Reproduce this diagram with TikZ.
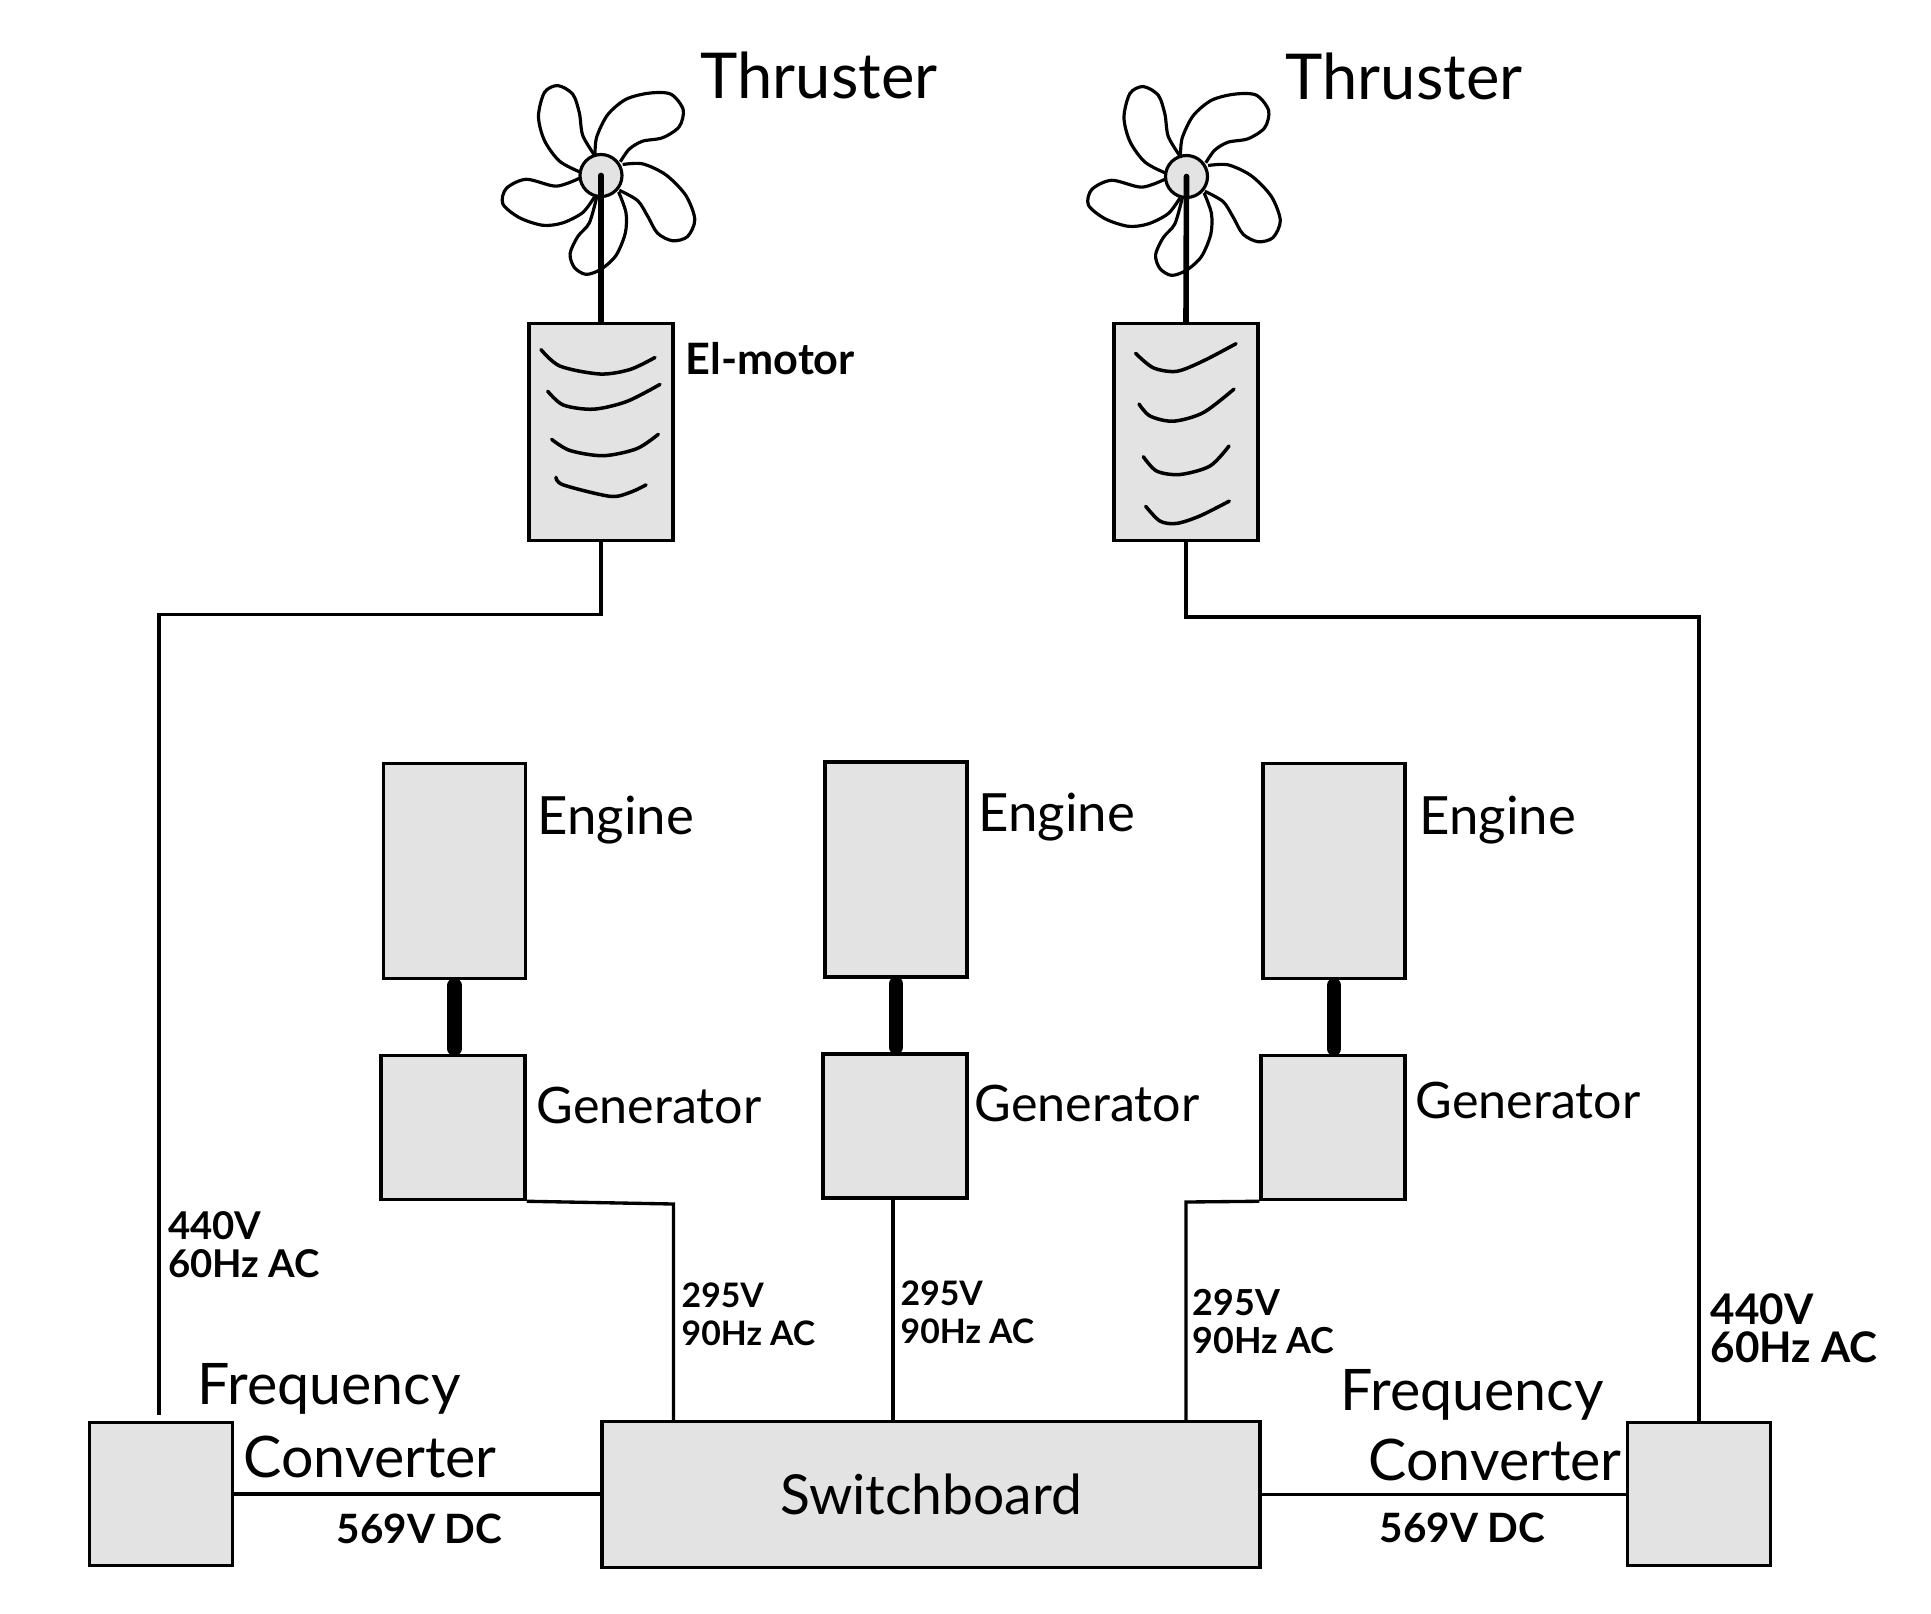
\documentclass[tikz,border=0pt]{standalone}
\usepackage{fontspec}
\usepackage{xcolor}
\setmainfont{Lato}
\definecolor{boxgray}{HTML}{E3E3E3}
\tikzset{
  unitbox/.style={draw, rectangle, fill=boxgray, line width=1pt, inner sep=0pt},
  motorbox/.style={unitbox, minimum width=1.44cm, minimum height=2.17cm},
  enginebox/.style={unitbox, minimum width=1.42cm, minimum height=2.15cm},
  genbox/.style={unitbox, minimum width=1.44cm, minimum height=1.44cm},
  convbox/.style={unitbox, minimum width=1.43cm, minimum height=1.43cm},
  hubnode/.style={draw, circle, fill=boxgray, line width=0.9pt, inner sep=0pt, minimum size=0.42cm},
  wire/.style={line width=0.95pt},
  shaft/.style={line width=1.6pt, line cap=round},
  coupler/.style={line width=4pt, line cap=round, shorten <=0.05cm, shorten >=0.05cm},
  blade/.style={line width=0.9pt, x=0.00333cm, y=-0.00344cm},
  winding/.style={line width=1pt, line cap=round},
  thrusterlabel/.style={font=\fontsize{18}{20}\selectfont, anchor=base west, inner sep=0pt},
  enginelabel/.style={font=\fontsize{15}{18}\selectfont, anchor=base west, inner sep=0pt},
  genlabel/.style={font=\fontsize{14.3}{17}\selectfont, anchor=base west, inner sep=0pt},
  convlabel/.style={font=\fontsize{16.3}{19}\selectfont, anchor=base west, inner sep=0pt},
  dclabel/.style={font=\fontsize{11.5}{13}\selectfont\bfseries, anchor=base west, inner sep=0pt},
  ratinglabel/.style={font=\fontsize{#1}{10.8}\selectfont\bfseries, anchor=north west, align=left, inner sep=0pt},
  fanblades/.pic={
    \draw[blade] plot[smooth] coordinates {(-20,-60) (-55,-117) (-65,-182) (-85,-237) (-130,-262) (-170,-242) (-188,-172) (-170,-102) (-125,-42) (-63,-10)};
    \draw[blade] plot[smooth] coordinates {(-18,-60) (-13,-112) (20,-177) (75,-222) (145,-240) (210,-237) (247,-192) (235,-142) (185,-110) (125,-100) (85,-77) (58,-40)};
    \draw[blade] plot[smooth] coordinates {(65,-32) (125,-34) (195,-2) (255,58) (282,128) (260,178) (215,190) (170,168) (140,118) (110,73) (55,43)};
    \draw[blade] plot[smooth] coordinates {(53,48) (75,108) (73,168) (45,233) (0,273) (-45,288) (-80,268) (-93,228) (-70,178) (-35,138) (-13,63)};
    \draw[blade] plot[smooth] coordinates {(-20,63) (-55,108) (-115,138) (-175,145) (-245,123) (-295,83) (-285,38) (-225,11) (-135,31) (-65,8)};
  }
}
\begin{document}
\begin{tikzpicture}[x=1cm, y=-1cm]
\useasboundingbox (0,0) rectangle (19.31,16.13);

\pic at (6.01,1.755) {fanblades};
\pic at (11.865,1.765) {fanblades};
\node[hubnode] (hubL) at (6.01,1.755) {};
\node[hubnode] (hubR) at (11.865,1.765) {};

\node[motorbox] (motorL) at (6.01,4.32) {};
\node[motorbox] (motorR) at (11.86,4.32) {};
\draw[shaft] (hubL.center) -- (motorL.north);
\draw[shaft] (hubR.center) -- (motorR.north);

\draw[winding] plot[smooth] coordinates {(5.41,3.496) (5.60,3.661) (6.00,3.740) (6.30,3.695) (6.55,3.575)};
\draw[winding] plot[smooth] coordinates {(5.477,3.912) (5.633,4.050) (5.933,4.092) (6.267,4.015) (6.60,3.844)};
\draw[winding] plot[smooth] coordinates {(5.517,4.394) (5.70,4.505) (6.033,4.557) (6.367,4.487) (6.583,4.343)};
\draw[winding] plot[smooth] coordinates {(5.56,4.773) (5.633,4.849) (6.10,4.963) (6.30,4.924) (6.46,4.849)};
\draw[winding] plot[smooth] coordinates {(11.357,3.534) (11.533,3.678) (11.767,3.713) (12.033,3.609) (12.36,3.437)};
\draw[winding] plot[smooth] coordinates {(11.39,4.040) (11.50,4.160) (11.733,4.212) (12.033,4.126) (12.34,3.891)};
\draw[winding] plot[smooth] coordinates {(11.433,4.567) (11.567,4.711) (11.80,4.745) (12.10,4.660) (12.29,4.460)};
\draw[winding] plot[smooth] coordinates {(11.457,5.063) (11.60,5.211) (11.767,5.234) (12.00,5.159) (12.293,5.011)};

\node[enginebox] (engineL) at (4.545,8.71) {};
\node[enginebox] (engineM) at (8.96,8.695) {};
\node[enginebox] (engineR) at (13.34,8.71) {};
\node[genbox] (genL) at (4.53,11.275) {};
\node[genbox] (genM) at (8.95,11.26) {};
\node[genbox] (genR) at (13.33,11.275) {};
\draw[coupler] (engineL.south) -- (engineL.south |- genL.north);
\draw[coupler] (engineM.south) -- (engineM.south |- genM.north);
\draw[coupler] (engineR.south) -- (engineR.south |- genR.north);

\node[convbox] (convL) at (1.61,14.94) {};
\node[convbox] (convR) at (16.99,14.94) {};
\node[unitbox, minimum width=6.58cm, minimum height=1.46cm, font=\fontsize{15.7}{19}\selectfont] (board) at (9.31,14.945) {Switchboard};

\coordinate (bendLa) at (6.01,6.145);
\coordinate (bendLb) at (1.59,6.145);
\coordinate (endL) at (1.59,14.15);
\coordinate (bendRa) at (11.86,6.17);
\coordinate (bendRb) at (16.99,6.17);
\coordinate (bendGL) at (6.735,12.04);
\coordinate (bendGM) at (8.93,11.98);
\coordinate (bendGR) at (11.86,12.02);
\draw[wire] (motorL.south) -- (bendLa) -- (bendLb) -- (endL);
\draw[wire] (motorR.south) -- (bendRa) -- (bendRb) -- (convR.north);
\draw[wire] (genL.south east) -- (bendGL) -- (bendGL |- board.north);
\draw[wire] (bendGM) -- (bendGM |- board.north);
\draw[wire] (genR.south west) -- (bendGR) -- (bendGR |- board.north);
\draw[wire] (convL.east) -- (convL.east -| board.west);
\draw[wire] (board.east) -- (board.east -| convR.west);

\node[thrusterlabel] (thrusterL) at (7.00,0.98) {Thruster};
\node[thrusterlabel] (thrusterR) at (12.85,0.99) {Thruster};
\node[dclabel, font=\fontsize{12.3}{15}\selectfont\bfseries] (elmotor) at (6.85,3.74) {El-motor};
\node[enginelabel] (engineLabelL) at (5.37,8.34) {Engine};
\node[enginelabel] (engineLabelM) at (9.78,8.31) {Engine};
\node[enginelabel] (engineLabelR) at (14.19,8.34) {Engine};
\node[genlabel] (genLabelL) at (5.36,11.23) {Generator};
\node[genlabel] (genLabelM) at (9.74,11.21) {Generator};
\node[genlabel] (genLabelR) at (14.15,11.18) {Generator};
\node[convlabel] (freqLabelL) at (1.97,14.04) {Frequency};
\node[convlabel] (convLabelL) at (2.43,14.77) {Converter};
\node[convlabel] (freqLabelR) at (13.40,14.10) {Frequency};
\node[convlabel] (convLabelR) at (13.68,14.80) {Converter};
\node[dclabel] (dcLabelL) at (3.36,15.43) {569V DC};
\node[dclabel] (dcLabelR) at (13.79,15.42) {569V DC};
\node[ratinglabel=10.9] (acLabelL) at (1.675,12.11) {440V\\60Hz AC};
\node[ratinglabel=12] (acLabelR) at (17.10,12.93) {440V\\60Hz AC};
\node[ratinglabel=9.6] (genRateL) at (6.81,12.82) {295V\\90Hz AC};
\node[ratinglabel=9.6] (genRateM) at (9.00,12.80) {295V\\90Hz AC};
\node[ratinglabel=10.2] (genRateR) at (11.92,12.89) {295V\\90Hz AC};
\end{tikzpicture}
\end{document}
